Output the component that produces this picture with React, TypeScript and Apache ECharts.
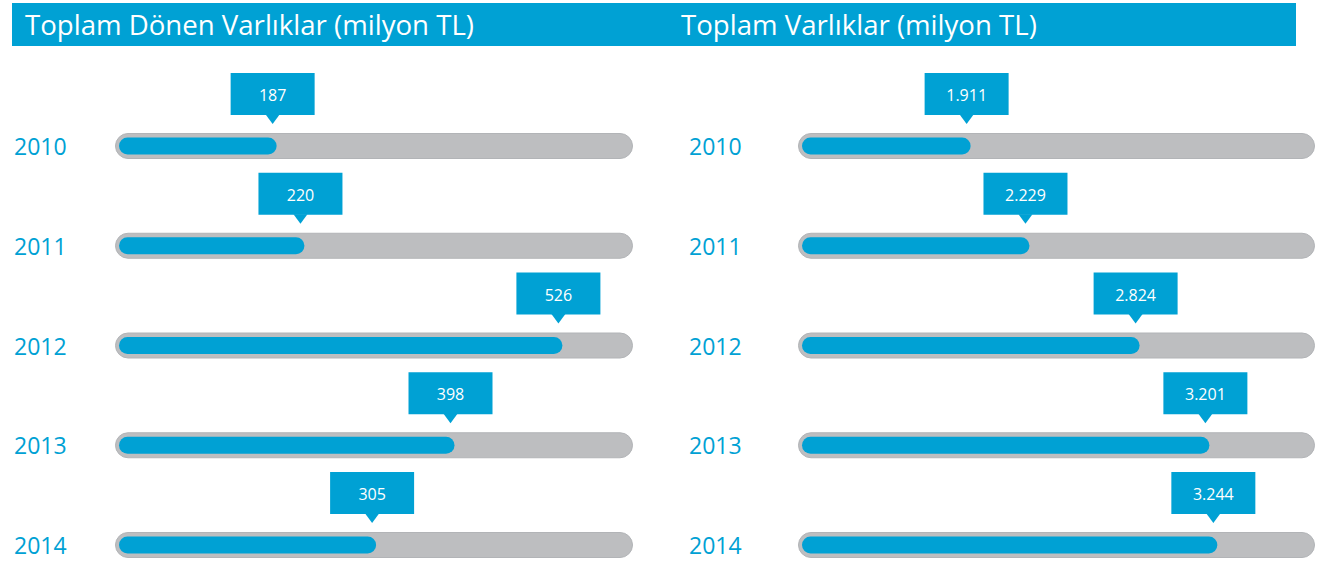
import React, { useEffect, useRef } from "react";
import * as echarts from "echarts";

const years = ["2010", "2011", "2012", "2013", "2014"];
const currentAssets = [187, 220, 526, 398, 305];
const totalAssets = [1911, 2229, 2824, 3201, 3244];
const leftTitle = "Toplam Dönen Varlıklar (milyon TL)";
const rightTitle = "Toplam Varlıklar (milyon TL)";
const leftRange = [0, 605];
const rightRange = [1000, 3750];

const BLUE = "#00A1D4";
const GRAY = "#BDBEC0";
const FONT = "'Open Sans', 'Noto Sans', sans-serif";

function fmt(v: number): string {
  return String(v).replace(/\B(?=(\d{3})+(?!\d))/g, ".");
}

function trackSeries(gridIdx: number, range: number[]) {
  return {
    type: "custom",
    xAxisIndex: gridIdx,
    yAxisIndex: gridIdx,
    silent: true,
    z: 1,
    data: years.map((_, i) => [range[1], i]),
    renderItem: (params: any, api: any) => {
      const i = api.value(1);
      const p0 = api.coord([range[0], i]);
      const p1 = api.coord([range[1], i]);
      const h = 25;
      return {
        type: "rect",
        shape: { x: p0[0] - 3.5, y: p0[1] - h / 2, width: p1[0] - p0[0] + 7, height: h, r: h / 2 },
        style: { fill: GRAY, stroke: "#B2B4B7", lineWidth: 1 },
      };
    },
  };
}

function barSeries(gridIdx: number, values: number[]) {
  return {
    type: "custom",
    xAxisIndex: gridIdx,
    yAxisIndex: gridIdx,
    z: 2,
    data: values.map((v, i) => [v, i]),
    renderItem: (params: any, api: any) => {
      const v = api.value(0);
      const i = api.value(1);
      const start = gridIdx === 0 ? leftRange[0] : rightRange[0];
      const p0 = api.coord([start, i]);
      const p1 = api.coord([v, i]);
      const h = 17;
      return {
        type: "rect",
        shape: { x: p0[0], y: p0[1] - h / 2, width: p1[0] - p0[0], height: h, r: h / 2 },
        style: { fill: BLUE },
      };
    },
  };
}

function calloutSeries(gridIdx: number, values: number[]) {
  return {
    type: "custom",
    xAxisIndex: gridIdx,
    yAxisIndex: gridIdx,
    z: 3,
    data: values.map((v, i) => [v, i]),
    renderItem: (params: any, api: any) => {
      const v = api.value(0);
      const i = api.value(1);
      const p = api.coord([v, i]);
      const px = p[0] - 4;
      const py = p[1];
      return {
        type: "group",
        children: [
          {
            type: "rect",
            shape: { x: px - 42, y: py - 73, width: 84, height: 42 },
            style: { fill: BLUE },
          },
          {
            type: "polygon",
            shape: { points: [[px - 7, py - 31.5], [px + 7, py - 31.5], [px, py - 22]] },
            style: { fill: BLUE },
          },
          {
            type: "text",
            x: px,
            y: py - 51,
            style: {
              text: fmt(v),
              fill: "#FFFFFF",
              font: `16px ${FONT}`,
              align: "center",
              verticalAlign: "middle",
            },
          },
        ],
      };
    },
  };
}

function yAxis(gridIdx: number, margin: number) {
  return {
    type: "category",
    gridIndex: gridIdx,
    data: years,
    inverse: true,
    boundaryGap: false,
    axisLine: { show: false },
    axisTick: { show: false },
    splitLine: { show: false },
    axisLabel: {
      color: BLUE,
      fontSize: 23,
      fontFamily: FONT,
      align: "left",
      margin,
    },
  };
}

function xAxis(gridIdx: number, range: number[]) {
  return {
    type: "value",
    gridIndex: gridIdx,
    min: range[0],
    max: range[1],
    show: false,
  };
}

export default function App() {
  const ref = useRef<HTMLDivElement>(null);
  useEffect(() => {
    document.body.style.margin = "0";
    if (!ref.current) return;
    const chart = echarts.init(ref.current, undefined, { renderer: "svg" });
    chart.setOption({
      animation: false,
      backgroundColor: "#FFFFFF",
      grid: [
        { left: 119, top: 146, width: 510, height: 399 },
        { left: 802, top: 146, width: 509, height: 399 },
      ],
      xAxis: [xAxis(0, leftRange), xAxis(1, rightRange)],
      yAxis: [yAxis(0, 105), yAxis(1, 113)],
      graphic: [
        {
          type: "rect",
          shape: { x: 12, y: 3, width: 1284, height: 43 },
          style: { fill: BLUE },
          z: 0,
        },
        {
          type: "text",
          x: 25,
          y: 24,
          style: { text: leftTitle, fill: "#FFFFFF", font: `27.6px ${FONT}`, verticalAlign: "middle" },
          z: 1,
        },
        {
          type: "text",
          x: 681,
          y: 24,
          style: { text: rightTitle, fill: "#FFFFFF", font: `27.6px ${FONT}`, verticalAlign: "middle" },
          z: 1,
        },
      ],
      series: [
        trackSeries(0, leftRange),
        barSeries(0, currentAssets),
        calloutSeries(0, currentAssets),
        trackSeries(1, rightRange),
        barSeries(1, totalAssets),
        calloutSeries(1, totalAssets),
      ],
    });
    return () => chart.dispose();
  }, []);
  return <div ref={ref} style={{ width: 1325, height: 562 }} />;
}
